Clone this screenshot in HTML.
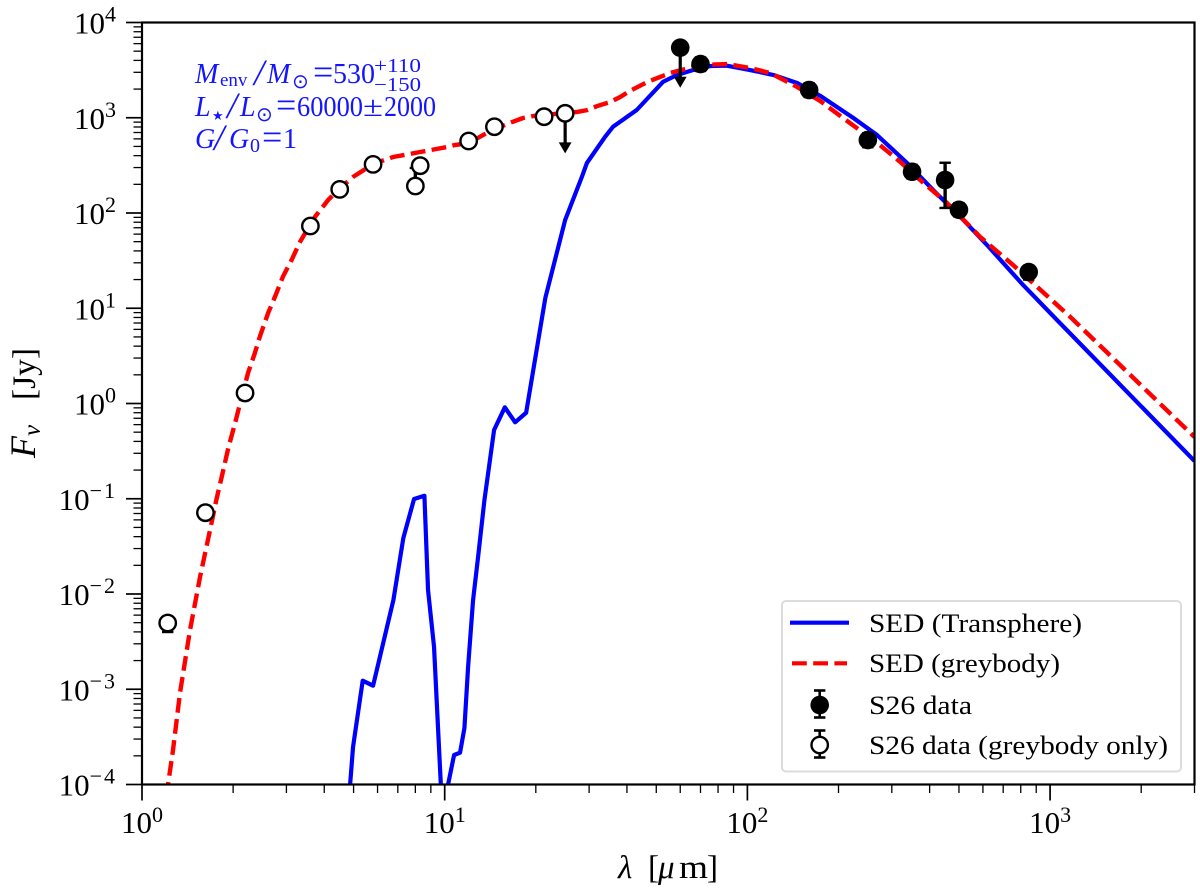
<!DOCTYPE html>
<html lang="en">
<head>
<meta charset="utf-8">
<title>Spectral energy distribution</title>
<style>
  html, body { margin: 0; padding: 0; background: #fff; }
  svg { display: block; }
  text { font-family: "Liberation Serif", "DejaVu Serif", serif; fill: #000; }
  .sym { font-family: "DejaVu Sans", "Liberation Serif", sans-serif; }
  .note text, text.note { fill: #1414ff; }
  .it { font-style: italic; }
</style>
</head>
<body>
<svg id="chart" xmlns="http://www.w3.org/2000/svg" width="1200" height="896" viewBox="0 0 1200 896">
  <defs>
    <clipPath id="plot-clip"><rect x="142" y="22.5" width="1052.5" height="762"></rect></clipPath>
  </defs>
  <rect x="0" y="0" width="1200" height="896" fill="#fff"></rect>
  <g id="series-layer" clip-path="url(#plot-clip)"></g>
  <g id="tick-layer"></g>
  <rect x="142" y="22.5" width="1052.5" height="762" fill="none" stroke="#000" stroke-width="2.2"></rect>
  <g id="label-layer"></g>

  <text y="878" font-size="33"><tspan class="it" x="618">λ</tspan><tspan x="648">[</tspan><tspan class="it" x="658">μ</tspan><tspan x="679" textLength="29" lengthAdjust="spacingAndGlyphs">m</tspan><tspan x="707">]</tspan></text>
  <text transform="translate(35,458) rotate(-90)" font-size="33"><tspan class="it" x="0" y="0" font-size="36">F</tspan><tspan class="it" x="22" y="5" font-size="25">ν</tspan><tspan x="58" y="0" textLength="52" lengthAdjust="spacingAndGlyphs">[Jy]</tspan></text>

  <g class="note" font-size="28">
    <text y="83"><tspan class="it" x="195">M</tspan><tspan x="220" y="86" font-size="19">env</tspan><tspan class="it" x="254" y="85" font-size="37">/</tspan><tspan class="it" x="267" y="83">M</tspan><tspan class="sym" x="292" y="88" font-size="20">⊙</tspan><tspan x="313" y="84" font-size="36">=</tspan><tspan x="333" y="83">530</tspan><tspan x="374" y="72" font-size="20" textLength="47" lengthAdjust="spacingAndGlyphs">+110</tspan><tspan x="374" y="91" font-size="20" textLength="47" lengthAdjust="spacingAndGlyphs">−150</tspan></text>
    <text y="116"><tspan class="it" x="195">L</tspan><tspan class="sym" x="212" y="120" font-size="13">★</tspan><tspan class="it" x="227" y="118" font-size="37">/</tspan><tspan class="it" x="240" y="116">L</tspan><tspan class="sym" x="256" y="121" font-size="20">⊙</tspan><tspan x="276" y="117" font-size="36">=</tspan><tspan x="297" y="116" textLength="66" lengthAdjust="spacingAndGlyphs">60000</tspan><tspan x="363" y="116" textLength="20" lengthAdjust="spacingAndGlyphs">±</tspan><tspan x="384" y="116" textLength="52" lengthAdjust="spacingAndGlyphs">2000</tspan></text>
    <text y="148"><tspan class="it" x="195">G</tspan><tspan class="it" x="214" y="150" font-size="37">/</tspan><tspan class="it" x="229" y="148">G</tspan><tspan x="250" y="152" font-size="20">0</tspan><tspan x="262" y="149" font-size="36">=</tspan><tspan x="283" y="148">1</tspan></text>
  </g>

  <g>
    <rect x="782" y="601" width="399" height="170.5" rx="4" fill="#fff" fill-opacity="0.85" stroke="#dcdcdc" stroke-width="2"></rect>
    <line x1="790" x2="849" y1="622.7" y2="622.7" stroke="#0000ff" stroke-width="4.2"></line>
    <line x1="792" x2="847" y1="663.3" y2="663.3" stroke="#ff0000" stroke-width="4.2" stroke-dasharray="14.8 6.4"></line>
    <g stroke="#000" stroke-width="2.6">
      <line x1="819.7" x2="819.7" y1="690.5" y2="717.5"></line>
      <line x1="814" x2="825.4" y1="690.5" y2="690.5"></line>
      <line x1="814" x2="825.4" y1="717.5" y2="717.5"></line>
      <circle cx="819.7" cy="705" r="9.3" fill="#000" stroke="none"></circle>
    </g>
    <g stroke="#000" stroke-width="2.6">
      <line x1="819.7" x2="819.7" y1="730.5" y2="757.5"></line>
      <line x1="814" x2="825.4" y1="730.5" y2="730.5"></line>
      <line x1="814" x2="825.4" y1="757.5" y2="757.5"></line>
      <circle cx="819.7" cy="745" r="8.2" fill="#fff" stroke-width="2.4"></circle>
    </g>
    <g font-size="26">
      <text x="869" y="632" textLength="213" lengthAdjust="spacingAndGlyphs">SED (Transphere)</text>
      <text x="869" y="672" textLength="191" lengthAdjust="spacingAndGlyphs">SED (greybody)</text>
      <text x="869" y="714" textLength="103" lengthAdjust="spacingAndGlyphs">S26 data</text>
      <text x="869" y="754" textLength="299" lengthAdjust="spacingAndGlyphs">S26 data (greybody only)</text>
    </g>
  </g>
</svg>

<script>
// Axis domains and tick decades
const xDomain = [1, 3000];
const yDomain = [1e-4, 1e4];
const xTickExponents = [0, 1, 2, 3];
const yTickExponents = [-4, -3, -2, -1, 0, 1, 2, 3, 4];

// Transphere SED (wavelength in micron, flux in Jy)
const transphereWavelengths = [4.87, 4.98, 5.36, 5.80, 6.77, 7.30, 7.92, 8.57, 8.81, 9.22, 9.71, 10.0, 10.26, 10.74, 11.24, 11.62, 11.95, 12.41, 12.86, 13.53, 14.56, 15.80, 17.09, 18.58, 21.5, 25.0, 28.4, 29.5, 33.9, 36.0, 43.1, 52.7, 58.5, 66.2, 75.4, 85.5, 102, 122, 146, 174, 224, 268, 337, 411, 517, 619, 815, 1054, 3000];
const transphereFluxes = [1e-4, 2.48e-4, 1.23e-3, 1.09e-3, 8.65e-3, 3.87e-2, 0.0993, 0.1076, 0.0110, 2.80e-3, 1e-4, 2e-5, 1e-4, 2.04e-4, 2.16e-4, 3.92e-4, 1.73e-3, 8.65e-3, 0.0228, 0.0970, 0.527, 0.912, 0.635, 0.80, 12.8, 84.5, 240, 335, 632, 805, 1206, 2390, 2810, 3170, 3490, 3520, 3170, 2810, 2317, 1700, 994, 659, 335, 174, 84.5, 46.1, 17.5, 7.53, 0.249];

// Greybody SED
const greybodyWavelengths = [1.147, 1.219, 1.266, 1.335, 1.441, 1.555, 1.678, 1.765, 1.834, 1.928, 2.03, 2.11, 2.24, 2.36, 2.45, 2.61, 2.75, 2.92, 3.12, 3.33, 3.73, 4.12, 4.48, 4.98, 5.80, 6.75, 8.30, 10.2, 10.8, 12.04, 13.39, 14.67, 16.7, 18.15, 19.6, 25.0, 27.4, 29.7, 31.9, 35.2, 38.0, 40.9, 46.7, 55.6, 69.8, 85.8, 102, 119, 146, 174, 207, 269, 320, 372, 457, 588, 755, 1167, 3000];
const greybodyFluxes = [2.7e-5, 1e-4, 2.30e-4, 9.13e-4, 4.19e-3, 0.0151, 0.0470, 0.101, 0.170, 0.341, 0.624, 1.01, 2.09, 3.39, 5.02, 8.91, 13.2, 21.4, 32.1, 50, 91.4, 137, 179, 239, 327, 387, 437, 493, 517, 543, 659, 762, 902, 994, 1043, 1122, 1150, 1206, 1327, 1462, 1652, 1910, 2373, 2951, 3580, 3664, 3330, 2951, 2104, 1500, 994, 543, 343, 222, 127, 56, 28.4, 8.09, 0.445];

// S26 data (filled)
const filledWavelengths = [60, 70, 160, 250, 350, 450, 500, 850];
const filledFluxes = [5440, 3660, 1955, 583, 271, 222, 108, 24];
const filledLower = [5440, 3100, 1650, 490, 230, 113, 92, 20];
const filledUpper = [5440, 4300, 2300, 690, 320, 337, 127, 28];
const filledIsLimit = [true, false, false, false, false, false, false, false];

// S26 data (greybody only, open)
const openWavelengths = [1.216, 1.62, 2.19, 3.6, 4.5, 5.8, 8.0, 8.3, 12, 14.6, 21.3, 25];
const openFluxes = [4.96e-3, 0.0714, 1.29, 73, 177, 324, 192, 314, 570, 805, 1026, 1113];
const openLower = [3.99e-3, 0.0714, 1.29, 73, 177, 324, 192, 314, 570, 805, 1026, 1113];
const openUpper = [4.96e-3, 0.0714, 1.29, 73, 177, 324, 297, 314, 570, 805, 1026, 1113];
const openIsLimit = [false, false, false, false, false, false, false, false, false, false, false, true];

// Upper limits are drawn down to this fraction of the measured flux
const limitArrowFraction = 0.38;

const NS = 'http://www.w3.org/2000/svg';
const plotLeft = 142, plotRight = 1194.5, plotTop = 22.5, plotBottom = 784.5;

function xScale(v) {
  const a = Math.log10(xDomain[0]), b = Math.log10(xDomain[1]);
  return plotLeft + (Math.log10(v) - a) / (b - a) * (plotRight - plotLeft);
}
function yScale(v) {
  const a = Math.log10(yDomain[0]), b = Math.log10(yDomain[1]);
  return plotBottom - (Math.log10(v) - a) / (b - a) * (plotBottom - plotTop);
}
function make(tag, attrs, parent) {
  const el = document.createElementNS(NS, tag);
  for (const k in attrs) el.setAttribute(k, attrs[k]);
  parent.appendChild(el);
  return el;
}
function linePath(xs, ys) {
  return xs.map((x, i) => (i ? 'L' : 'M') + xScale(x).toFixed(2) + ' ' + yScale(ys[i]).toFixed(2)).join(' ');
}

const seriesLayer = document.getElementById('series-layer');
const tickLayer = document.getElementById('tick-layer');
const labelLayer = document.getElementById('label-layer');

// Ticks
function drawXTicks() {
  xTickExponents.forEach(function (exp) {
    const major = make('line', { x1: xScale(Math.pow(10, exp)), x2: xScale(Math.pow(10, exp)), y1: plotBottom, y2: plotBottom + 16, stroke: '#000', 'stroke-width': 1.7 }, tickLayer);
    
    
    for (let m = 2; m <= 9; m++) {
      const v = m * Math.pow(10, exp);
      if (v > xDomain[1]) continue;
      const minor = make('line', { x1: xScale(v), x2: xScale(v), y1: plotBottom, y2: plotBottom + 8.5, stroke: '#000', 'stroke-width': 1.3 }, tickLayer);
      
      
    }
    const label = make('text', { x: xScale(Math.pow(10, exp)), y: 833, 'text-anchor': 'middle', 'font-size': 31 }, labelLayer);
    
    
    label.appendChild(document.createTextNode('10'));
    const sup = make('tspan', { dy: -11, 'font-size': 22 }, label);
    sup.textContent = String(exp);
  });
}
function drawYTicks() {
  yTickExponents.forEach(function (exp) {
    const yp = yScale(Math.pow(10, exp));
    const major = make('line', { x1: plotLeft - 16, x2: plotLeft, y1: yp, y2: yp, stroke: '#000', 'stroke-width': 1.7 }, tickLayer);
    
    
    if (exp < yTickExponents[yTickExponents.length - 1]) {
      for (let m = 2; m <= 9; m++) {
        const ym = yScale(m * Math.pow(10, exp));
        const minor = make('line', { x1: plotLeft - 8.5, x2: plotLeft, y1: ym, y2: ym, stroke: '#000', 'stroke-width': 1.3 }, tickLayer);
        
        
      }
    }
    const label = make('text', { x: exp < 0 ? 117 : 116, y: yp + 11, 'text-anchor': 'end', 'font-size': 31 }, labelLayer);
    
    
    label.appendChild(document.createTextNode('10'));
    const sup = make('tspan', { dy: -12, 'font-size': 22, 'letter-spacing': exp < 0 ? 2 : 0 }, label);
    sup.textContent = String(exp).replace('-', '\u2212');
  });
}

// Curves
function drawCurves() {
  const blue = make('path', { d: linePath(transphereWavelengths, transphereFluxes), fill: 'none', stroke: '#0000ff', 'stroke-width': 4.2, 'stroke-linejoin': 'round' }, seriesLayer);
  
  
  const red = make('path', { d: linePath(greybodyWavelengths, greybodyFluxes), fill: 'none', stroke: '#ff0000', 'stroke-width': 4.4, 'stroke-dasharray': '14.8 6.4', 'stroke-linejoin': 'round' }, seriesLayer);
  
  
}

// Markers
function drawPoint(lam, flux, lo, hi, isLimit, filled, group) {
  const xp = xScale(lam), yp = yScale(flux);
  if (isLimit) {
    const tip = yScale(flux * limitArrowFraction);
    make('line', { x1: xp, x2: xp, y1: yp, y2: tip - 8, stroke: '#000', 'stroke-width': 3.2 }, group);
    make('polygon', { points: (xp - 6.4) + ',' + (tip - 11) + ' ' + (xp + 6.4) + ',' + (tip - 11) + ' ' + xp + ',' + tip, fill: '#000' }, group);
  }
  if (lo !== flux || hi !== flux) {
    const yLo = yScale(lo), yHi = yScale(hi);
    make('line', { x1: xp, x2: xp, y1: yHi, y2: yLo, stroke: '#000', 'stroke-width': 3.4 }, group);
    make('line', { x1: xp - 5.7, x2: xp + 5.7, y1: yHi, y2: yHi, stroke: '#000', 'stroke-width': 2.4 }, group);
    make('line', { x1: xp - 5.7, x2: xp + 5.7, y1: yLo, y2: yLo, stroke: '#000', 'stroke-width': 2.4 }, group);
  }
  if (filled) {
    make('circle', { cx: xp, cy: yp, r: 9.3, fill: '#000' }, group);
  } else {
    make('circle', { cx: xp, cy: yp, r: 8.2, fill: '#fff', stroke: '#000', 'stroke-width': 2.4 }, group);
  }
}
function drawFilled() {
  filledWavelengths.forEach(function (lam, i) {
    const g = make('g', {}, seriesLayer);
    
    
    drawPoint(lam, filledFluxes[i], filledLower[i], filledUpper[i], filledIsLimit[i], true, g);
  });
}
function drawOpen() {
  openWavelengths.forEach(function (lam, i) {
    const g = make('g', {}, seriesLayer);
    
    
    drawPoint(lam, openFluxes[i], openLower[i], openUpper[i], openIsLimit[i], false, g);
  });
}

drawXTicks();
drawYTicks();
drawCurves();
drawOpen();
drawFilled();
</script>
</body>
</html>
